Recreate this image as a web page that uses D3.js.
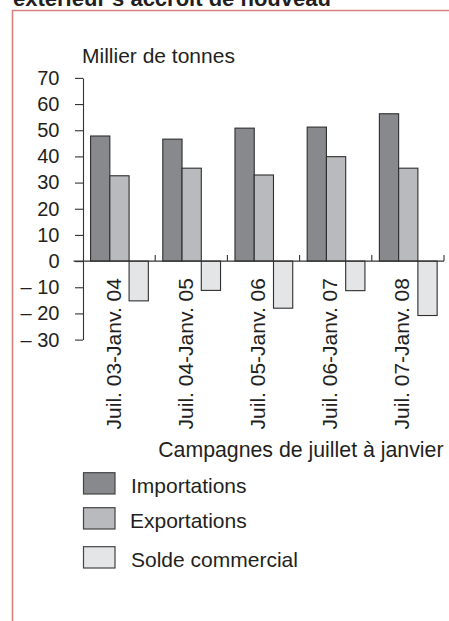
<!DOCTYPE html>
<html>
<head>
<meta charset="utf-8">
<script src="https://cdn.jsdelivr.net/npm/d3@7"></script>
<style>
  html, body { margin: 0; padding: 0; background: #fff; }
  svg { display: block; font-family: "Liberation Sans", Arial, sans-serif; }
</style>
</head>
<body>
<svg id="chart" width="449" height="621"></svg>
<script>
const categories = ["Juil. 03-Janv. 04", "Juil. 04-Janv. 05", "Juil. 05-Janv. 06", "Juil. 06-Janv. 07", "Juil. 07-Janv. 08"];
const seriesNames = ["Importations", "Exportations", "Solde commercial"];
const importations = [47.8, 46.6, 50.8, 51.2, 56.3];
const exportations = [32.6, 35.5, 32.9, 39.9, 35.5];
const soldeCommercial = [-15.2, -11.2, -18.0, -11.3, -20.8];
const yTicks = [70, 60, 50, 40, 30, 20, 10, 0, -10, -20, -30];
const headingText = "extérieur s’accroît de nouveau";
const yTitle = "Millier de tonnes";
const xTitle = "Campagnes de juillet à janvier";

const seriesValues = [importations, exportations, soldeCommercial];
const colors = ["#88898d", "#b9babd", "#e4e5e7"];
const textColor = "#231f20";
const lineColor = "#333";

const svg = d3.select("#chart");

// frame
svg.append("path")
  .attr("d", "M12.5,621 V10.5 H449")
  .attr("fill", "none").attr("stroke", "#d88080").attr("stroke-width", 1.6);

// heading (clipped at top, as in the reference)
svg.append("text")
  .attr("x", 13).attr("y", 5.5)
  .attr("font-size", 22).attr("font-weight", "bold").attr("fill", textColor)
  .text(headingText);

const y = d3.scaleLinear().domain([-30, 70]).range([339.6, 77.9]);
const x0 = d3.scaleBand().domain(categories).range([83, 444]).padding(0);
const bw = x0.bandwidth();
const x1 = d3.scaleBand().domain(seriesNames).range([bw * 0.105, bw * 0.905]).padding(0);

// bars
const data = categories.map((c, i) => ({ cat: c, vals: seriesNames.map((s, j) => ({ s, v: seriesValues[j][i], j })) }));
const groups = svg.append("g").selectAll("g").data(data).join("g")
  .attr("transform", d => `translate(${x0(d.cat)},0)`);
groups.selectAll("rect").data(d => d.vals).join("rect")
  .attr("x", d => x1(d.s))
  .attr("width", x1.bandwidth())
  .attr("y", d => y(Math.max(0, d.v)))
  .attr("height", d => Math.abs(y(d.v) - y(0)))
  .attr("fill", d => colors[d.j])
  .attr("stroke", "#2e2e2e").attr("stroke-width", 1.1);

// y axis
const yAxis = d3.axisLeft(y).tickValues(yTicks).tickSize(8).tickSizeOuter(0).tickPadding(15.5)
  .tickFormat(d => d < 0 ? "\u2013 " + Math.abs(d) : String(d));
const yg = svg.append("g").attr("transform", "translate(83,0)").call(yAxis);
yg.select(".domain").attr("stroke", lineColor).attr("stroke-width", 1.1);
yg.selectAll(".tick line").attr("stroke", lineColor).attr("stroke-width", 1.1);
yg.selectAll(".tick text").attr("font-size", 20).attr("fill", textColor)
  .attr("font-family", "Liberation Sans, Arial, sans-serif");

// zero line
svg.append("line")
  .attr("x1", 73.5).attr("x2", x0.range()[1])
  .attr("y1", y(0)).attr("y2", y(0))
  .attr("stroke", lineColor).attr("stroke-width", 1.1);

// category separators
const seps = categories.slice(1).map(c => x0(c)).concat([x0.range()[1]]);
svg.append("g").selectAll("line").data(seps).join("line")
  .attr("x1", d => d).attr("x2", d => d)
  .attr("y1", y(0)).attr("y2", y(0) - 6)
  .attr("stroke", lineColor).attr("stroke-width", 1.1);

// category labels
svg.append("g").selectAll("text").data(categories).join("text")
  .attr("transform", d => `translate(${x0(d) + bw / 2 + 1.5},${y(0) + 17}) rotate(-90)`)
  .attr("text-anchor", "end")
  .attr("font-size", 21).attr("fill", textColor)
  .text(d => d);

// titles
svg.append("text").attr("x", 82).attr("y", 63)
  .attr("font-size", 21).attr("fill", textColor).text(yTitle);
svg.append("text").attr("x", 443.5).attr("y", 457)
  .attr("text-anchor", "end")
  .attr("font-size", 21.3).attr("fill", textColor).text(xTitle);

// legend
const legY = [472.7, 507.7, 546.7];
const leg = svg.append("g").selectAll("g").data(seriesNames).join("g")
  .attr("transform", (d, i) => `translate(0,${legY[i]})`);
leg.append("rect").attr("x", 83.5).attr("y", 0).attr("width", 31.5).attr("height", 21.3)
  .attr("fill", (d, i) => colors[i]).attr("stroke", "#444").attr("stroke-width", 1.2);
leg.append("text").attr("x", (d, i) => i === 1 ? 130 : 131).attr("y", 20.8)
  .attr("font-size", 21).attr("fill", textColor).text(d => d);
</script>
</body>
</html>
